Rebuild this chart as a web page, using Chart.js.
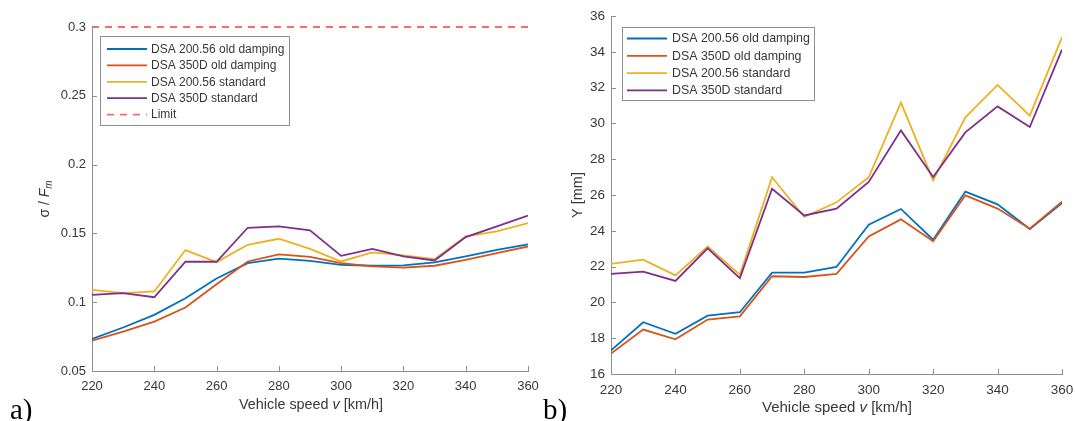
<!DOCTYPE html>
<html><head><meta charset="utf-8">
<script src="https://cdn.jsdelivr.net/npm/chart.js@4.4.0/dist/chart.umd.min.js"></script>
<style>
html,body{margin:0;padding:0;background:#fff;width:1075px;height:421px;overflow:hidden;position:relative}
canvas{position:absolute;top:0}
#ca{left:0}
#cb{left:540px}
</style></head>
<body>
<canvas id="ca" width="552" height="421"></canvas>
<canvas id="cb" width="547" height="421"></canvas>
<script>
// ---------- data ----------
const speeds = [220,230,240,250,260,270,280,290,300,310,320,330,340,350,360];
const xTicks = [220,240,260,280,300,320,340,360];
const yTicksA = [0.05,0.1,0.15,0.2,0.25,0.3];
const yTicksB = [16,18,20,22,24,26,28,30,32,34,36];
const seriesNames = ['DSA 200.56 old damping','DSA 350D old damping','DSA 200.56 standard','DSA 350D standard'];
const limitName = 'Limit';
const limitValue = 0.3;

// chart a) sigma / F_m
const ratioOld200 = [0.0733,0.0816,0.0908,0.1029,0.1172,0.1284,0.1316,0.1301,0.1272,0.1265,0.1267,0.1289,0.1333,0.1381,0.1420];
const ratioOld350 = [0.0721,0.0786,0.0859,0.0961,0.1131,0.1296,0.1347,0.1330,0.1284,0.1260,0.1252,0.1265,0.1308,0.1357,0.1405];
const ratioStd200 = [0.1090,0.1066,0.1078,0.1379,0.1291,0.1417,0.1461,0.1388,0.1296,0.1362,0.1340,0.1313,0.1478,0.1515,0.1575];
const ratioStd350 = [0.1053,0.1066,0.1036,0.1294,0.1294,0.1541,0.1551,0.1522,0.1337,0.1388,0.1333,0.1303,0.1473,0.1551,0.1629];

// chart b) Y [mm]
const yOld200 = [17.32,18.89,18.25,19.26,19.45,21.66,21.66,21.98,24.34,25.22,23.50,26.19,25.48,24.10,25.55];
const yOld350 = [17.14,18.48,17.94,19.04,19.22,21.46,21.42,21.59,23.69,24.64,23.41,25.98,25.24,24.12,25.63];
const yStd200 = [22.15,22.39,21.51,23.13,21.55,26.99,24.77,25.59,26.99,31.16,26.82,30.34,32.15,30.43,34.81];
const yStd350 = [21.59,21.72,21.20,23.02,21.36,26.35,24.86,25.24,26.73,29.61,27.01,29.50,30.95,29.80,34.12];

// ---------- styles ----------
const colors = ['#0072BD','#D95319','#EDB120','#7E2F8E'];
const limitColor = '#ff6868';
const FF = '"Liberation Sans", Arial, sans-serif';
const TXT = '#383838';
const AX = '#8f8f8f';
const LEG = '#8f8f8f';
const LW = 1.8;

const toPoints = vals => speeds.map((x,i)=>({x:x, y:vals[i]}));

function seriesDatasets(arrs){
  return arrs.map((vals,i)=>({
    label: seriesNames[i], data: toPoints(vals), borderColor: colors[i], backgroundColor: colors[i],
    borderWidth: LW, pointRadius: 0, tension: 0, fill: false, order: 4-i
  }));
}

function makeScales(yTicks, yWidth, xHeight, fs){
  return {
    x:{type:'linear', min:speeds[0], max:speeds[speeds.length-1],
      afterBuildTicks:s=>{s.ticks = xTicks.map(v=>({value:v}));},
      afterFit:s=>{s.height = xHeight;},
      grid:{display:false, drawOnChartArea:false, drawTicks:false},
      border:{display:true, color:AX, width:1},
      ticks:{padding:8, color:TXT, font:{family:FF, size:fs}, maxRotation:0, autoSkip:false, callback:v=>String(v)}
    },
    y:{type:'linear', min:yTicks[0], max:yTicks[yTicks.length-1],
      afterBuildTicks:s=>{s.ticks = yTicks.map(v=>({value:v}));},
      afterFit:s=>{s.width = yWidth;},
      grid:{display:false, drawOnChartArea:false, drawTicks:false},
      border:{display:true, color:AX, width:1},
      ticks:{padding:6, color:TXT, font:{family:FF, size:fs}, autoSkip:false, callback:v=>String(v)}
    }
  };
}

function drawRich(ctx, runs, cx, cy, rot){
  ctx.save(); ctx.translate(cx,cy); ctx.rotate(rot);
  let w = 0;
  runs.forEach(r=>{ctx.font=r.font; r.w=ctx.measureText(r.t).width; w+=r.w;});
  let x = -w/2;
  ctx.textBaseline='middle'; ctx.textAlign='left'; ctx.fillStyle=TXT;
  runs.forEach(r=>{ctx.font=r.font; ctx.fillText(r.t, x, r.dy||0); x+=r.w;});
  ctx.restore();
}

function drawLegend(chart, c){
  const ctx = chart.ctx;
  ctx.save();
  ctx.fillStyle='#fff';
  ctx.fillRect(c.x0, c.y0, c.x1-c.x0, c.y1-c.y0);
  ctx.strokeStyle=LEG; ctx.lineWidth=1;
  ctx.strokeRect(Math.round(c.x0)+0.5, Math.round(c.y0)+0.5, Math.round(c.x1-c.x0), Math.round(c.y1-c.y0));
  chart.data.datasets.forEach((ds,i)=>{
    const y = c.row0 + i*c.rowH;
    ctx.beginPath();
    ctx.setLineDash(ds.borderDash || []);
    ctx.strokeStyle = ds.borderColor; ctx.lineWidth = ds.borderWidth;
    ctx.moveTo(c.lx0, y); ctx.lineTo(c.lx1, y); ctx.stroke();
    ctx.setLineDash([]);
    ctx.fillStyle = TXT; ctx.font = c.fs + 'px ' + FF;
    ctx.textBaseline='middle'; ctx.textAlign='left';
    ctx.fillText(ds.label, c.tx, y+0.5);
  });
  ctx.restore();
}

function drawInwardTicks(chart, len){
  const ctx = chart.ctx, xs = chart.scales.x, ys = chart.scales.y, a = chart.chartArea;
  ctx.save(); ctx.strokeStyle=AX; ctx.lineWidth=1; ctx.beginPath();
  xs.ticks.forEach(t=>{const p=Math.round(xs.getPixelForValue(t.value))+0.5; ctx.moveTo(p,a.bottom); ctx.lineTo(p,a.bottom-len);});
  ys.ticks.forEach(t=>{const p=Math.round(ys.getPixelForValue(t.value))+0.5; ctx.moveTo(a.left,p); ctx.lineTo(a.left+len,p);});
  ctx.stroke(); ctx.restore();
}

// ---------- chart a ----------
const dsA = seriesDatasets([ratioOld200, ratioOld350, ratioStd200, ratioStd350]);
dsA.push({label: limitName, data: [{x:speeds[0], y:limitValue},{x:speeds[speeds.length-1], y:limitValue}],
  borderColor: limitColor, backgroundColor: limitColor, borderWidth: 1.8, borderDash:[7,6], pointRadius:0, order:0, clip:false});

new Chart(document.getElementById('ca'), {
  type:'line',
  data:{datasets: dsA},
  options:{
    responsive:false, animation:false, devicePixelRatio:1,
    layout:{padding:{top:27, right:24, bottom:0, left:0}},
    scales: makeScales(yTicksA, 92, 50, 13),
    plugins:{legend:{display:false}, tooltip:{enabled:false}, title:{display:false}}
  },
  plugins:[{id:'decorA', afterDraw(chart){
    drawInwardTicks(chart, 5);
    drawLegend(chart, {x0:100, y0:36, x1:289, y1:125, row0:49, rowH:16.4, lx0:107, lx1:147, tx:151, fs:12});
    const ctx = chart.ctx;
    drawRich(ctx, [{t:'σ / ', font:'14px '+FF},{t:'F', font:'italic 14px '+FF},{t:'m', font:'italic 10px '+FF, dy:4}], 45, 199, -Math.PI/2);
    drawRich(ctx, [{t:'Vehicle speed ', font:'14.4px '+FF},{t:'v', font:'italic 14.4px '+FF},{t:' [km/h]', font:'14.4px '+FF}], 311, 405, 0);
    ctx.save(); ctx.fillStyle='#000'; ctx.font='29px "Liberation Serif", "Times New Roman", serif';
    ctx.textBaseline='alphabetic'; ctx.textAlign='left'; ctx.fillText('a)', 10, 419); ctx.restore();
  }}]
});

// ---------- chart b ----------
const dsB = seriesDatasets([yOld200, yOld350, yStd200, yStd350]);

new Chart(document.getElementById('cb'), {
  type:'line',
  data:{datasets: dsB},
  options:{
    responsive:false, animation:false, devicePixelRatio:1,
    layout:{padding:{top:16, right:25, bottom:0, left:0}},
    scales: makeScales(yTicksB, 71, 47, 13.5),
    plugins:{legend:{display:false}, tooltip:{enabled:false}, title:{display:false}}
  },
  plugins:[{id:'decorB', afterDraw(chart){
    drawInwardTicks(chart, 5);
    drawLegend(chart, {x0:82, y0:27, x1:274, y1:100, row0:38.5, rowH:17.3, lx0:87, lx1:127, tx:132, fs:12.4});
    const ctx = chart.ctx;
    drawRich(ctx, [{t:'Y [mm]', font:'14.5px '+FF}], 38, 195, -Math.PI/2);
    drawRich(ctx, [{t:'Vehicle speed ', font:'15px '+FF},{t:'v', font:'italic 15px '+FF},{t:' [km/h]', font:'15px '+FF}], 297, 408, 0);
    ctx.save(); ctx.fillStyle='#000'; ctx.font='29px "Liberation Serif", "Times New Roman", serif';
    ctx.textBaseline='alphabetic'; ctx.textAlign='left'; ctx.fillText('b)', 3, 419); ctx.restore();
  }}]
});
</script>
</body></html>
